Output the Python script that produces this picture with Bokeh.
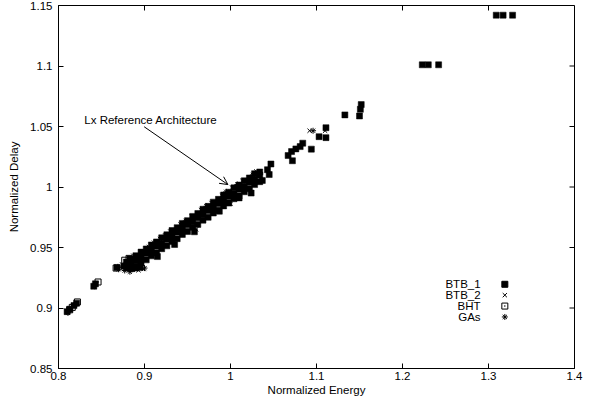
from bokeh.plotting import figure
from bokeh.models import FixedTicker, Arrow, OpenHead, Label, Range1d
from bokeh.embed import file_html
from bokeh.resources import INLINE

# ---------------- data ----------------
btb1_x = [0.810, 0.813, 0.818, 0.821, 0.841, 0.843, 0.868,
          0.876, 0.880, 0.885, 0.890, 0.895, 0.879, 0.883,
          0.884, 0.884,
          0.890, 0.890, 0.890, 0.896, 0.896, 0.896, 0.902, 0.902, 0.902,
          0.908, 0.908, 0.908, 0.914, 0.914, 0.914, 0.920, 0.920, 0.920,
          0.926, 0.926, 0.926, 0.932, 0.932, 0.932, 0.938, 0.938, 0.938,
          0.944, 0.944, 0.944, 0.950, 0.950, 0.950, 0.956, 0.956, 0.956,
          0.962, 0.962, 0.962, 0.968, 0.968, 0.968, 0.974, 0.974, 0.974,
          0.980, 0.980, 0.980, 0.986, 0.986, 0.986, 0.992, 0.992, 0.992,
          0.998, 0.998, 0.998, 1.004, 1.004, 1.004, 1.010, 1.010, 1.010,
          1.016, 1.016, 1.016, 1.022, 1.022, 1.022, 1.028, 1.028, 1.028,
          1.034, 1.034, 1.034,
          0.915, 0.935, 0.958, 0.987, 1.010, 1.024,
          1.037, 1.045, 1.043, 1.047, 1.067, 1.072, 1.071, 1.076, 1.081, 1.084,
          1.094, 1.103, 1.111, 1.111, 1.133, 1.150, 1.151, 1.152,
          1.223, 1.230, 1.242, 1.309, 1.317, 1.328]
btb1_y = [0.897, 0.899, 0.902, 0.904, 0.918, 0.920, 0.9335,
          0.9345, 0.9330, 0.9325, 0.9330, 0.9335, 0.9380, 0.9405,
          0.9362, 0.9400,
          0.9345, 0.9390, 0.9432, 0.9372, 0.9418, 0.9462, 0.9398, 0.9452, 0.9488,
          0.9431, 0.9477, 0.9521, 0.9455, 0.9510, 0.9546, 0.9490, 0.9536, 0.9580,
          0.9514, 0.9569, 0.9605, 0.9549, 0.9595, 0.9640, 0.9573, 0.9628, 0.9664,
          0.9608, 0.9653, 0.9699, 0.9632, 0.9687, 0.9722, 0.9667, 0.9712, 0.9757,
          0.9691, 0.9746, 0.9781, 0.9726, 0.9770, 0.9816, 0.9750, 0.9805, 0.9840,
          0.9785, 0.9830, 0.9875, 0.9808, 0.9863, 0.9898, 0.9844, 0.9888, 0.9934,
          0.9867, 0.9922, 0.9957, 0.9903, 0.9947, 0.9993, 0.9926, 0.9981, 1.0016,
          0.9961, 1.0005, 1.0051, 0.9985, 1.0040, 1.0075, 1.0020, 1.0064, 1.0110,
          1.0044, 1.0099, 1.0124,
          0.9425, 0.9525, 0.9630, 0.9800, 0.9910, 0.9950,
          1.0054, 1.0103, 1.0143, 1.0190, 1.0260, 1.0217, 1.0293, 1.0315, 1.0334, 1.0362,
          1.0313, 1.0416, 1.0408, 1.0490, 1.0596, 1.0587, 1.0642, 1.0681,
          1.101, 1.101, 1.101, 1.142, 1.142, 1.142]

btb2_x = [0.874, 0.886, 0.893, 0.899, 0.887, 0.905, 0.918, 0.930, 0.942, 0.955,
          0.966, 0.978, 0.990, 1.002, 1.014, 1.030, 1.092, 1.110, 0.960, 1.000]
btb2_y = [0.9360, 0.9318, 0.9312, 0.9322, 0.9432, 0.9505, 0.9570, 0.9632, 0.9690, 0.9755,
          0.9810, 0.9868, 0.9930, 0.9995, 1.0050, 1.0128, 1.0465, 1.0465, 0.9650, 0.9860]

bht_x = [0.813, 0.816, 0.822, 0.846, 0.877, 0.882, 0.867]
bht_y = [0.8985, 0.9005, 0.9050, 0.9215, 0.9395, 0.9410, 0.9330]

gas_x = [0.870, 0.877, 0.883, 0.900, 0.911, 0.924, 0.948, 0.972, 0.995, 1.008,
         1.026, 0.811, 0.842, 1.096, 0.820, 0.869]
gas_y = [0.9320, 0.9310, 0.9300, 0.9330, 0.9540, 0.9600, 0.9720, 0.9840, 0.9960, 1.0020,
         1.0100, 0.8960, 0.9180, 1.0465, 0.9030, 0.9340]

series_names = ["BTB_1", "BTB_2", "BHT", "GAs"]

x_ticks = [0.8, 0.9, 1.0, 1.1, 1.2, 1.3, 1.4]
x_tick_labels = ["0.8", "0.9", "1", "1.1", "1.2", "1.3", "1.4"]
y_ticks = [0.85, 0.9, 0.95, 1.0, 1.05, 1.1, 1.15]
y_tick_labels = ["0.85", "0.9", "0.95", "1", "1.05", "1.1", "1.15"]

annotation_text = "Lx Reference Architecture"
ref_arch = (0.997, 1.002)
annotation_pos = (0.830, 1.0552)
arrow_start = (0.8996, 1.0498)

# ---------------- figure ----------------
FONT = "Liberation Sans"
FS = "11.5px"
X0, X1 = 0.8, 1.4
Y0, Y1 = 0.85, 1.15
FRAME_W, FRAME_H = 516, 363
TICK_PX = 5

p = figure(frame_width=FRAME_W, frame_height=FRAME_H, output_backend="svg", toolbar_location=None,
           x_range=Range1d(X0, X1), y_range=Range1d(Y0, Y1),
           min_border_left=58, min_border_right=12, min_border_top=5, min_border_bottom=29)
p.grid.visible = False
p.outline_line_color = "black"
p.outline_line_width = 1
p.background_fill_color = "white"
p.border_fill_color = "white"

def style_axis(ax, ticks, labels):
    ax.ticker = FixedTicker(ticks=ticks)
    ax.major_label_overrides = {t: l for t, l in zip(ticks, labels)}
    ax.major_tick_in = TICK_PX
    ax.major_tick_out = 0
    ax.minor_tick_in = 0
    ax.minor_tick_out = 0
    ax.axis_line_color = "black"
    ax.major_tick_line_color = "black"
    ax.major_label_text_font = FONT
    ax.major_label_text_font_size = FS
    ax.major_label_text_color = "black"
    ax.axis_label_text_font = FONT
    ax.axis_label_text_font_size = FS
    ax.axis_label_text_font_style = "normal"
    ax.axis_label_text_color = "black"

style_axis(p.xaxis[0], x_ticks, x_tick_labels)
style_axis(p.yaxis[0], y_ticks, y_tick_labels)
p.xaxis[0].axis_label = "Normalized Energy"
p.yaxis[0].axis_label = "Normalized Delay"
p.xaxis[0].major_label_standoff = 3
p.xaxis[0].axis_label_standoff = 1
p.yaxis[0].major_label_standoff = 6
p.yaxis[0].axis_label_standoff = 7

# mirror ticks on top and right (gnuplot style)
dy = TICK_PX * (Y1 - Y0) / FRAME_H
dx = TICK_PX * (X1 - X0) / FRAME_W
p.segment(x0=x_ticks, y0=[Y1] * len(x_ticks), x1=x_ticks, y1=[Y1 - dy] * len(x_ticks),
          line_color="black", line_width=1)
p.segment(x0=[X1] * len(y_ticks), y0=y_ticks, x1=[X1 - dx] * len(y_ticks), y1=y_ticks,
          line_color="black", line_width=1)

# ---------------- data marks ----------------
p.scatter(btb1_x, btb1_y, marker="square", size=6, fill_color="black", line_color="black", line_width=0.5)
p.scatter(btb2_x, btb2_y, marker="x", size=6, line_color="black", line_width=1)
p.scatter(bht_x, bht_y, marker="square_dot", size=6, fill_color=None, line_color="black", line_width=1)
p.scatter(gas_x, gas_y, marker="asterisk", size=6, line_color="black", line_width=1)

# ---------------- annotation ----------------
p.add_layout(Arrow(end=OpenHead(size=8, line_width=1, line_color="black"),
                   x_start=arrow_start[0], y_start=arrow_start[1],
                   x_end=ref_arch[0], y_end=ref_arch[1],
                   line_width=1, line_color="black"))
p.add_layout(Label(x=annotation_pos[0], y=annotation_pos[1], text=annotation_text,
                   text_font=FONT, text_font_size=FS, text_baseline="middle",
                   text_align="left", text_color="black"))

# ---------------- legend (gnuplot style: text right, marker after) ----------------
leg_text_x = X0 + 0.818 * (X1 - X0)
leg_mark_x = X0 + 0.865 * (X1 - X0)
leg_top_y = Y0 + 0.232 * (Y1 - Y0)
leg_step = 0.030 * (Y1 - Y0)
markers = [("square", "black"), ("x", None), ("square_dot", None), ("asterisk", None)]
for i, (name, (mk, fc)) in enumerate(zip(series_names, markers)):
    yy = leg_top_y - i * leg_step
    p.add_layout(Label(x=leg_text_x, y=yy, text=name, text_font=FONT, text_font_size=FS,
                       text_align="right", text_baseline="middle", text_color="black"))
    p.scatter([leg_mark_x], [yy], marker=mk, size=6, fill_color=fc, line_color="black", line_width=1)

open("out.html", "w").write(file_html(p, INLINE))
